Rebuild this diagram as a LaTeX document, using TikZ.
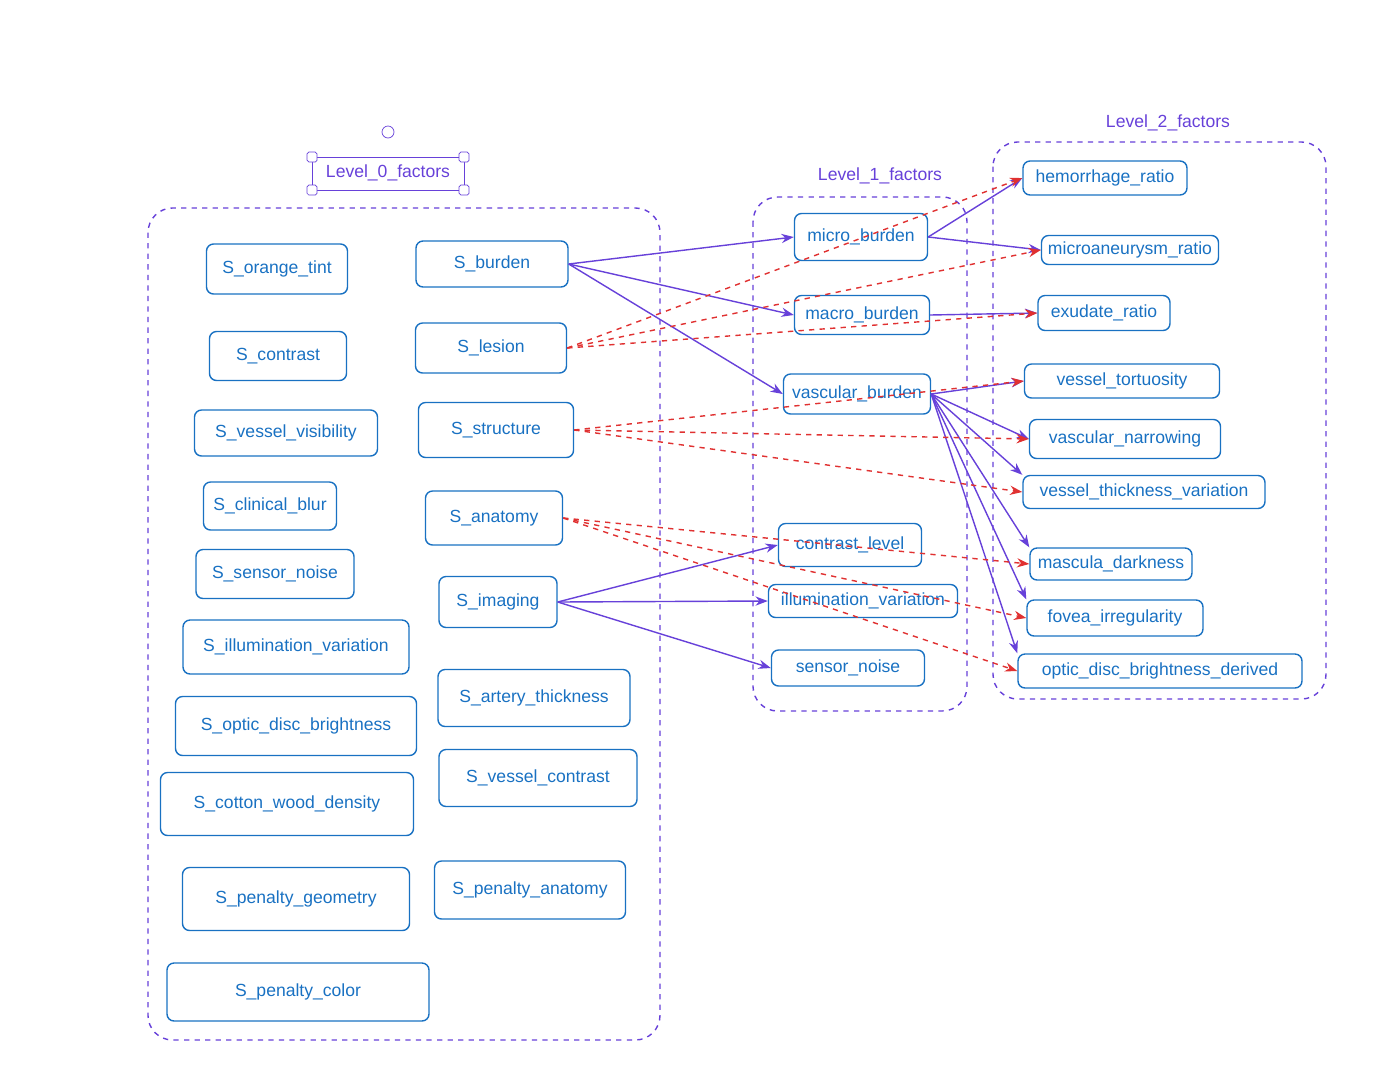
\documentclass[tikz,border=0pt]{standalone}
\usepackage{fontspec}
\setmainfont{Liberation Sans}
\usetikzlibrary{arrows.meta}
\definecolor{boxblue}{HTML}{1971C2}
\definecolor{grpurple}{HTML}{6741D9}
\definecolor{dashred}{HTML}{E03131}
\tikzset{
  fac/.style={draw=boxblue,thick,rounded corners=4pt,text=boxblue,font=\fontsize{10}{12}\selectfont,inner sep=2pt},
  sz/.style 2 args={minimum width=#1*0.02cm,minimum height=#2*0.02cm},
  grp/.style={draw=grpurple,thick,dashed,rounded corners=14pt},
  grplabel/.style={text=grpurple,font=\fontsize{10}{12}\selectfont},
  link/.style={draw=grpurple,thick,-{Stealth[length=7pt]}},
  weak/.style={draw=dashred,thick,dashed,-{Stealth[length=7pt]}}
}
\begin{document}
\begin{tikzpicture}[x=0.02cm,y=-0.02cm]
\useasboundingbox (0,0) rectangle (1400,1076);
% groups
\draw[grp] (148,208) rectangle (660,1040);
\draw[grp] (753,197) rectangle (967,711);
\draw[grp] (993,142) rectangle (1326,699);
\node[grplabel] (lvl0) at (388,173) {Level\_0\_factors};
\draw[grpurple,thin] (312,157) rectangle (464,190);
\foreach \p in {(312,157),(464,157),(312,190),(464,190)}
  \draw[grpurple,fill=white,rounded corners=1pt] \p ++(-5,-5) rectangle ++(10,10);
\draw[grpurple] (388,132) circle[radius=6];
\node[grplabel] (lvl1) at (880,176) {Level\_1\_factors};
\node[grplabel] (lvl2) at (1168,123) {Level\_2\_factors};
% level 0, left column
\node[fac,sz={141}{50}] (orange) at (277,269) {S\_orange\_tint};
\node[fac,sz={137}{49}] (contrast) at (278,356) {S\_contrast};
\node[fac,sz={183}{46}] (visibility) at (286,433) {S\_vessel\_visibility};
\node[fac,sz={133}{48}] (blur) at (270,506) {S\_clinical\_blur};
\node[fac,sz={158}{49}] (snoise) at (275,574) {S\_sensor\_noise};
\node[fac,sz={226}{54}] (sillum) at (296,647) {S\_illumination\_variation};
\node[fac,sz={241}{59}] (optic) at (296,726) {S\_optic\_disc\_brightness};
\node[fac,sz={253}{63}] (cotton) at (287,804) {S\_cotton\_wood\_density};
\node[fac,sz={227}{63}] (pgeom) at (296,899) {S\_penalty\_geometry};
\node[fac,sz={262}{58}] (pcolor) at (298,992) {S\_penalty\_color};
% level 0, right column
\node[fac,sz={152}{46}] (burden) at (492,264) {S\_burden};
\node[fac,sz={151}{50}] (lesion) at (491,348) {S\_lesion};
\node[fac,sz={155}{55}] (structure) at (496,430) {S\_structure};
\node[fac,sz={137}{54}] (anatomy) at (494,518) {S\_anatomy};
\node[fac,sz={118}{51}] (imaging) at (498,602) {S\_imaging};
\node[fac,sz={192}{57}] (artery) at (534,698) {S\_artery\_thickness};
\node[fac,sz={198}{57}] (vcontrast) at (538,778) {S\_vessel\_contrast};
\node[fac,sz={191}{58}] (panat) at (530,890) {S\_penalty\_anatomy};
% level 1
\node[fac,sz={133}{47}] (micro) at (861,237) {micro\_burden};
\node[fac,sz={135}{39}] (macro) at (862,315) {macro\_burden};
\node[fac,sz={147}{40}] (vascular) at (857,394) {vascular\_burden};
\node[fac,sz={143}{43}] (clevel) at (850,545) {contrast\_level};
\node[fac,sz={189}{33}] (illum) at (863,601) {illumination\_variation};
\node[fac,sz={153}{36}] (noise) at (848,668) {sensor\_noise};
% level 2
\node[fac,sz={164}{34}] (hemo) at (1105,178) {hemorrhage\_ratio};
\node[fac,sz={177}{29}] (maneur) at (1130,250) {microaneurysm\_ratio};
\node[fac,sz={132}{35}] (exud) at (1104,313) {exudate\_ratio};
\node[fac,sz={195}{34}] (tort) at (1122,381) {vessel\_tortuosity};
\node[fac,sz={191}{39}] (narrow) at (1125,439) {vascular\_narrowing};
\node[fac,sz={242}{33}] (thick) at (1144,492) {vessel\_thickness\_variation};
\node[fac,sz={162}{32}] (mascula) at (1111,564) {mascula\_darkness};
\node[fac,sz={176}{36}] (fovea) at (1115,618) {fovea\_irregularity};
\node[fac,sz={284}{34}] (odisc) at (1160,671) {optic\_disc\_brightness\_derived};
% solid links
\draw[link] (burden.east) -- (micro.west);
\draw[link] (burden.east) -- (macro.west);
\draw[link] (burden.east) -- (vascular.west);
\draw[link] (imaging.east) -- (clevel.west);
\draw[link] (imaging.east) -- (illum.west);
\draw[link] (imaging.east) -- (noise.west);
\draw[link] (micro.east) -- (hemo.west);
\draw[link] (micro.east) -- (maneur.west);
\draw[link] (macro.east) -- (exud.west);
\draw[link] (vascular.east) -- (tort.west);
\draw[link] (vascular.east) -- (narrow.west);
\draw[link] (vascular.east) -- (thick.north west);
\draw[link] (vascular.east) -- (mascula.north west);
\draw[link] (vascular.east) -- (fovea.north west);
\draw[link] (vascular.east) -- (odisc.north west);
% dashed links
\draw[weak] (lesion.east) -- (hemo.west);
\draw[weak] (lesion.east) -- (maneur.west);
\draw[weak] (lesion.east) -- (exud.west);
\draw[weak] (structure.east) -- (tort.west);
\draw[weak] (structure.east) -- (narrow.west);
\draw[weak] (structure.east) -- (thick.west);
\draw[weak] (anatomy.east) -- (mascula.west);
\draw[weak] (anatomy.east) -- (fovea.west);
\draw[weak] (anatomy.east) -- (odisc.west);
\end{tikzpicture}
\end{document}
